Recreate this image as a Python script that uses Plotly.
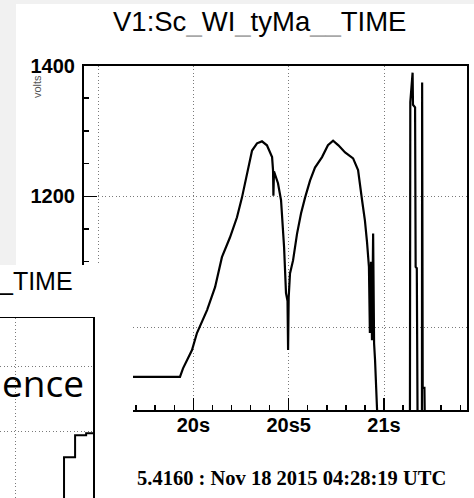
import numpy as np
import plotly.graph_objects as go

W, H = 474, 498

# ---- main series: time (s) vs volts ----
time_s = [19.427, 19.70, 19.93, 19.946, 19.993, 20.019, 20.072, 20.114, 20.150,
          20.192, 20.229, 20.255, 20.281, 20.308, 20.334, 20.360, 20.386, 20.413,
          20.418, 20.420, 20.423, 20.444, 20.460, 20.476, 20.486, 20.494, 20.497,
          20.500, 20.507, 20.523, 20.544, 20.565, 20.586, 20.612, 20.638, 20.675,
          20.706, 20.733, 20.761, 20.796, 20.838, 20.864, 20.885, 20.900, 20.911,
          20.921, 20.926, 20.932, 20.937, 20.943, 20.948, 20.953, 20.963, 20.966,
          21.136, 21.138, 21.150, 21.152, 21.163, 21.166, 21.172, 21.176, 21.199,
          21.200, 21.203, 21.212, 21.214, 21.435]
volts = [924, 924, 924, 937, 965, 991, 1026, 1061, 1107,
         1137, 1168, 1198, 1235, 1270, 1281, 1284, 1278, 1260,
         1240, 1201, 1238, 1220, 1194, 1122, 1052, 1040, 965,
         1045, 1082, 1102, 1143, 1174, 1198, 1224, 1244, 1260,
         1278, 1285, 1278, 1267, 1258, 1240, 1194, 1163, 1130,
         1092, 991, 1100, 980, 1143, 975, 950, 878, 860,
         860, 1344, 1389, 1340, 1336, 1092, 1090, 860, 860,
         1374, 907, 907, 860, 860]

x_tickvals = [19.5, 20.0, 20.5, 21.0]
x_ticktext = ["19s5", "20s", "20s5", "21s"]
y_tickvals = [1000, 1200, 1400]
y_ticktext = ["1000", "1200", "1400"]

# ---- overlapping second window (partially visible) ----
ov_time = [21.257, 21.315, 21.373, 21.409]
ov_vals = [990, 1061, 1095, 1098]

title_main = ("V1:Sc<span style='color:#a8a8a8'>_</span>WI<span style='color:#a8a8a8'>_</span>"
              "tyMa<span style='color:#a8a8a8'>__</span>TIME")
footer = "5.4160 : Nov 18 2015 04:28:19 UTC"


def px(v):
    return v / W


def py(v):
    return 1 - v / H


GRID = "#7a7a7a"
DOTS = "1px,2.5px"
Y_RANGE = [873.3, 1400]

fig = go.Figure()

fig.add_trace(go.Scatter(x=time_s, y=volts, mode="lines",
                         line=dict(color="black", width=2.2),
                         xaxis="x", yaxis="y", showlegend=False, hoverinfo="skip"))

# empty trace so that the overlaid frame axis (left edge of the pad) is drawn
fig.add_trace(go.Scatter(x=[], y=[], mode="lines", xaxis="x", yaxis="y4",
                         showlegend=False, hoverinfo="skip"))

# white cover of the overlapping window
fig.add_trace(go.Scatter(x=[0, 1, 1, 0, 0], y=[0, 0, 1, 1, 0], mode="lines",
                         fill="toself", fillcolor="white", line=dict(color="white", width=0),
                         xaxis="x2", yaxis="y2", showlegend=False, hoverinfo="skip"))

fig.add_trace(go.Scatter(x=ov_time, y=ov_vals, mode="lines", line_shape="vh",
                         line=dict(color="black", width=2),
                         xaxis="x3", yaxis="y3", showlegend=False, hoverinfo="skip"))

tickfont = dict(family="Liberation Sans", size=20, color="black", weight="bold")

fig.update_layout(
    width=W, height=H,
    margin=dict(l=0, r=0, t=0, b=0),
    paper_bgcolor="#f1f1f1",
    plot_bgcolor="rgba(0,0,0,0)",
    xaxis=dict(domain=[px(84), px(467)], range=[19.4266, 21.4353],
               tickmode="array", tickvals=x_tickvals, ticktext=x_ticktext,
               ticks="inside", ticklen=12, tickwidth=1.5, tickcolor="black",
               minor=dict(tickmode="linear", tick0=19.4, dtick=0.1, ticks="inside",
                          ticklen=5, tickwidth=1.5, tickcolor="black"),
               showline=True, linecolor="black", linewidth=2, mirror=True,
               showgrid=True, gridcolor=GRID, griddash=DOTS, gridwidth=1,
               zeroline=False, tickfont=tickfont, ticklabelstandoff=-4,
               automargin=False, anchor="y", fixedrange=True),
    yaxis=dict(domain=[py(410), py(65.5)], range=Y_RANGE,
               tickmode="array", tickvals=y_tickvals, ticktext=y_ticktext,
               ticks="inside", ticklen=13, tickwidth=1.5, tickcolor="black",
               minor=dict(tickmode="linear", tick0=0, dtick=50, ticks="inside",
                          ticklen=5, tickwidth=1.5, tickcolor="black"),
               showline=True, linecolor="black", linewidth=2, mirror=True,
               showgrid=True, gridcolor=GRID, griddash=DOTS, gridwidth=1,
               zeroline=False, tickfont=tickfont, ticklabelstandoff=3,
               automargin=False, anchor="x", fixedrange=True),
    yaxis4=dict(overlaying="y", anchor="x", side="left", range=Y_RANGE,
                showline=True, linecolor="black", linewidth=2.5,
                showgrid=False, zeroline=False, ticks="", showticklabels=False,
                automargin=False, fixedrange=True),
    xaxis2=dict(domain=[0, px(133)], range=[0, 1], visible=False, anchor="y2", fixedrange=True),
    yaxis2=dict(domain=[0, py(265)], range=[0, 1], visible=False, anchor="x2", fixedrange=True),
    xaxis3=dict(domain=[0, px(93)], range=[20.921, 21.409], side="top",
                tickmode="linear", tick0=21.0, dtick=0.5, ticks="", showticklabels=False,
                showline=True, linecolor="black", linewidth=1.5,
                showgrid=True, gridcolor=GRID, griddash=DOTS, gridwidth=1,
                zeroline=False, anchor="y3", automargin=False, fixedrange=True),
    yaxis3=dict(domain=[0, py(318)], range=[998.5, 1275], side="right",
                tickmode="linear", tick0=1000, dtick=100, ticks="", showticklabels=False,
                showline=True, linecolor="black", linewidth=1.5,
                showgrid=True, gridcolor=GRID, griddash=DOTS, gridwidth=1,
                zeroline=False, anchor="x3", automargin=False, fixedrange=True),
    shapes=[
        dict(type="rect", xref="paper", yref="paper", x0=px(16), x1=1, y0=0, y1=py(4),
             fillcolor="white", line=dict(width=0), layer="below"),
    ],
    annotations=[
        dict(text=title_main, x=px(259), y=py(22), xref="paper", yref="paper",
             xanchor="center", yanchor="middle", showarrow=False,
             font=dict(family="Liberation Sans", size=27.5, color="black")),
        dict(text="volts", x=px(37), y=py(87), xref="paper", yref="paper",
             xanchor="center", yanchor="middle", showarrow=False, textangle=-90,
             font=dict(family="Liberation Sans", size=11, color="#555555")),
        dict(text=footer, x=px(291), y=py(478), xref="paper", yref="paper",
             xanchor="center", yanchor="middle", showarrow=False,
             font=dict(family="Liberation Serif", size=20.5, color="black", weight="bold")),
        dict(text="_TIME", x=px(75), y=py(281), xref="paper", yref="paper",
             xanchor="right", yanchor="middle", showarrow=False,
             font=dict(family="Liberation Sans", size=25, color="black")),
        dict(text="ence", x=px(0), y=py(382), xref="paper", yref="paper",
             xanchor="left", yanchor="middle", showarrow=False,
             font=dict(family="Open Sans", size=37, color="black")),
    ],
)

fig.write_html("out.html", config={"displayModeBar": False, "staticPlot": True},
               post_script="document.body.style.margin='0px';document.body.style.overflow='hidden';")
